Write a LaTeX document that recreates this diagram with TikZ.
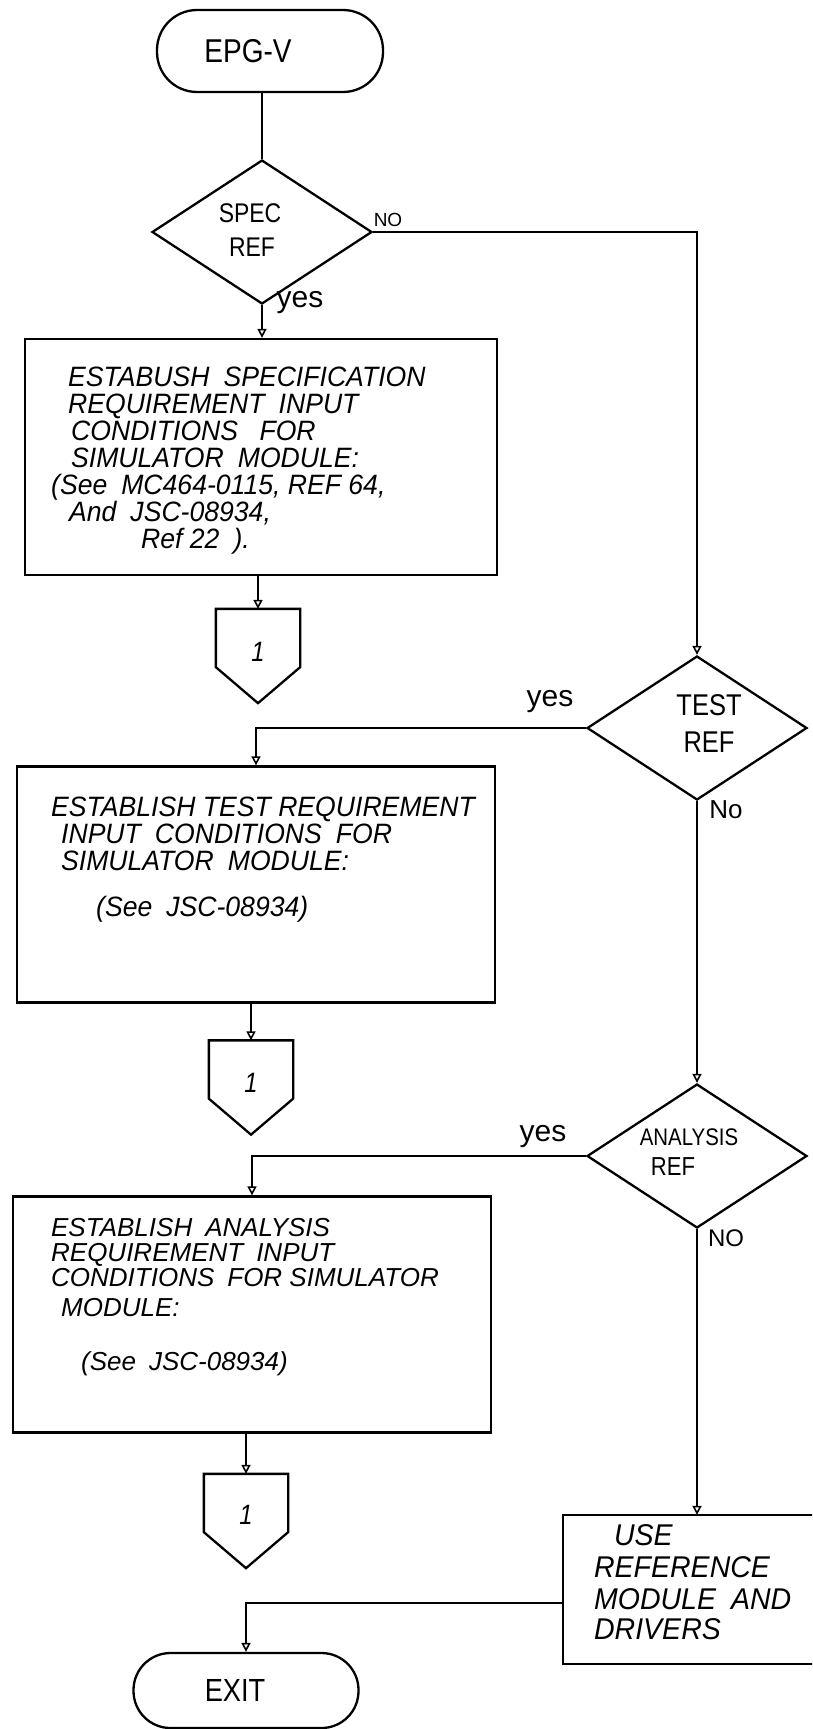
\documentclass[tikz,border=0pt]{standalone}
\usepackage{fontspec}
\newfontfamily\hand[FakeStretch=0.85]{Liberation Sans}
\newfontfamily\handb[FakeStretch=0.95]{Liberation Sans}
\newfontfamily\handw{Liberation Sans}
\usetikzlibrary{shapes.geometric,arrows.meta}
\begin{document}
\begin{tikzpicture}[x=1pt,y=-1pt, line width=2.3pt,
  every node/.style={inner sep=0pt, font=\hand},
  term/.style={draw, rounded corners=40pt, minimum width=226pt, minimum height=82pt},
  dec/.style={draw, diamond, minimum width=220pt, minimum height=144pt},
  dtxt/.style={font=\hand\fontsize{27}{27}\selectfont},
  procbox/.style={draw, rectangle, minimum width=478pt, minimum height=236pt},
  txt/.style={anchor=north west, align=left, font=\handb\itshape\fontsize{28}{27}\selectfont},
  conn/.style={minimum width=82pt, minimum height=92pt},
  connshape/.style={draw, line join=miter},
  lbl/.style={font=\handw\fontsize{30}{30}\selectfont},
  arr/.style={-{Triangle[open,length=9pt,width=9pt,line width=1.6pt]}}
]
\path[use as bounding box] (0,0) rectangle (812,1729);
\clip (0,0) rectangle (812,1729);

% main nodes
\node[term, font=\hand\fontsize{33}{33}\selectfont] (epg) at (270,51) {EPG-V\hspace*{44pt}};
\node[dec] (spec) at (262,232) {};
\node[procbox, minimum width=472pt] (box1) at (261,457) {};
\node[conn] (c1) at (258,656) {};
\node[dec] (test) at (697,728) {};
\node[procbox] (box2) at (256,884.5) {};
\node[conn] (c2) at (251,1087.5) {};
\node[dec] (anal) at (697,1156) {};
\node[procbox] (box3) at (252,1314.5) {};
\node[conn] (c3) at (246,1521) {};
\node[minimum width=249pt, minimum height=147pt, anchor=west] (use) at (563,1589.5) {};
\draw (use.north east) -- (use.north west) -- (use.south west) -- (use.south east);
\node[term, minimum width=225pt, minimum height=75pt, rounded corners=37pt,
  font=\hand\fontsize{32}{32}\selectfont] (exit) at (246,1690.5) {EXIT\hspace*{22pt}};

% decision texts
\node[dtxt] (s1) at (250,213) {SPEC};
\node[dtxt] (s2) at (252,247) {REF};
\node[dtxt, font=\hand\fontsize{30}{30}\selectfont] (e1) at (709,705) {TEST};
\node[dtxt, font=\hand\fontsize{30}{30}\selectfont] (e2) at (709,742) {REF};
\node[dtxt, font=\hand\fontsize{24}{24}\selectfont] (a1) at (689,1137) {ANALYSIS};
\node[dtxt, font=\hand\fontsize{26}{26}\selectfont] (a2) at (673,1167) {REF};

% off-page connectors
\foreach \c in {c1,c2,c3}
  \draw[connshape] (\c.north west) -- (\c.north east) -- ([yshift=36pt]\c.south east)
    -- (\c.south) -- ([yshift=36pt]\c.south west) -- cycle;
\node[font=\hand\itshape\fontsize{28}{28}\selectfont] (c1l) at (258,652) {1};
\node[font=\hand\itshape\fontsize{28}{28}\selectfont] (c2l) at (251,1083) {1};
\node[font=\hand\itshape\fontsize{28}{28}\selectfont] (c3l) at (246,1515) {1};

% box texts
\node[txt] (t1) at (50,366) {%
\hspace*{17pt}ESTABUSH\enskip SPECIFICATION\\
\hspace*{17pt}REQUIREMENT\enskip INPUT\\
\hspace*{20pt}CONDITIONS\enskip\ FOR\\
\hspace*{20pt}SIMULATOR\enskip MODULE:\\
(See\enskip MC464-0115,\ REF 64,\\
\hspace*{18pt}And\enskip JSC-08934,\\
\hspace*{90pt}Ref\ 22\enskip ).};
\node[txt] (t2) at (50,796) {%
ESTABLISH TEST REQUIREMENT\\
\hspace*{10pt}INPUT\enskip CONDITIONS\enskip FOR\\
\hspace*{10pt}SIMULATOR\enskip MODULE:\\[19pt]
\hspace*{45pt}(See\enskip JSC-08934)};
\node[txt, font=\handw\itshape\fontsize{26}{25}\selectfont] (t3) at (50,1217) {%
ESTABLISH\enskip ANALYSIS\\
REQUIREMENT\enskip INPUT\\
CONDITIONS\enskip FOR SIMULATOR\\[5pt]
\hspace*{10pt}MODULE:\\[29pt]
\hspace*{30pt}(See\enskip JSC-08934)};
\node[txt, font=\handb\itshape\fontsize{30}{32}\selectfont] (t4) at (593,1523) {%
\hspace*{20pt}USE\\
REFERENCE\\
MODULE\enskip AND\\[-2pt]
DRIVERS};

% connectors
\draw (epg.south -| spec.north) -- (spec.north);
\draw[arr] (spec.south) -- (spec.south |- box1.north);
\draw[arr] (spec.east) -| (test.north);
\draw[arr] (box1.south -| c1.north) -- (c1.north);
\draw[arr] (test.west) -| (box2.north);
\draw[arr] (test.south) -- (anal.north);
\draw[arr] (box2.south -| c2.north) -- (c2.north);
\draw[arr] (anal.west) -| (box3.north);
\draw[arr] (anal.south) -- (anal.south |- use.north);
\draw[arr] (box3.south -| c3.north) -- (c3.north);
\coordinate (j) at (246,1603);
\draw[arr] (use.west |- j) -- (j) -- (exit.north);

% edge labels
\node[lbl, font=\handw\fontsize{19}{19}\selectfont] (l1) at (388,220) {NO};
\node[lbl] (l2) at (300,303) {yes};
\node[lbl] (l3) at (550,702) {yes};
\node[lbl, font=\handw\fontsize{26}{26}\selectfont] (l4) at (726,810) {No};
\node[lbl] (l5) at (543,1137) {yes};
\node[lbl, font=\handw\fontsize{24}{24}\selectfont] (l6) at (726,1238) {NO};
\end{tikzpicture}
\end{document}
